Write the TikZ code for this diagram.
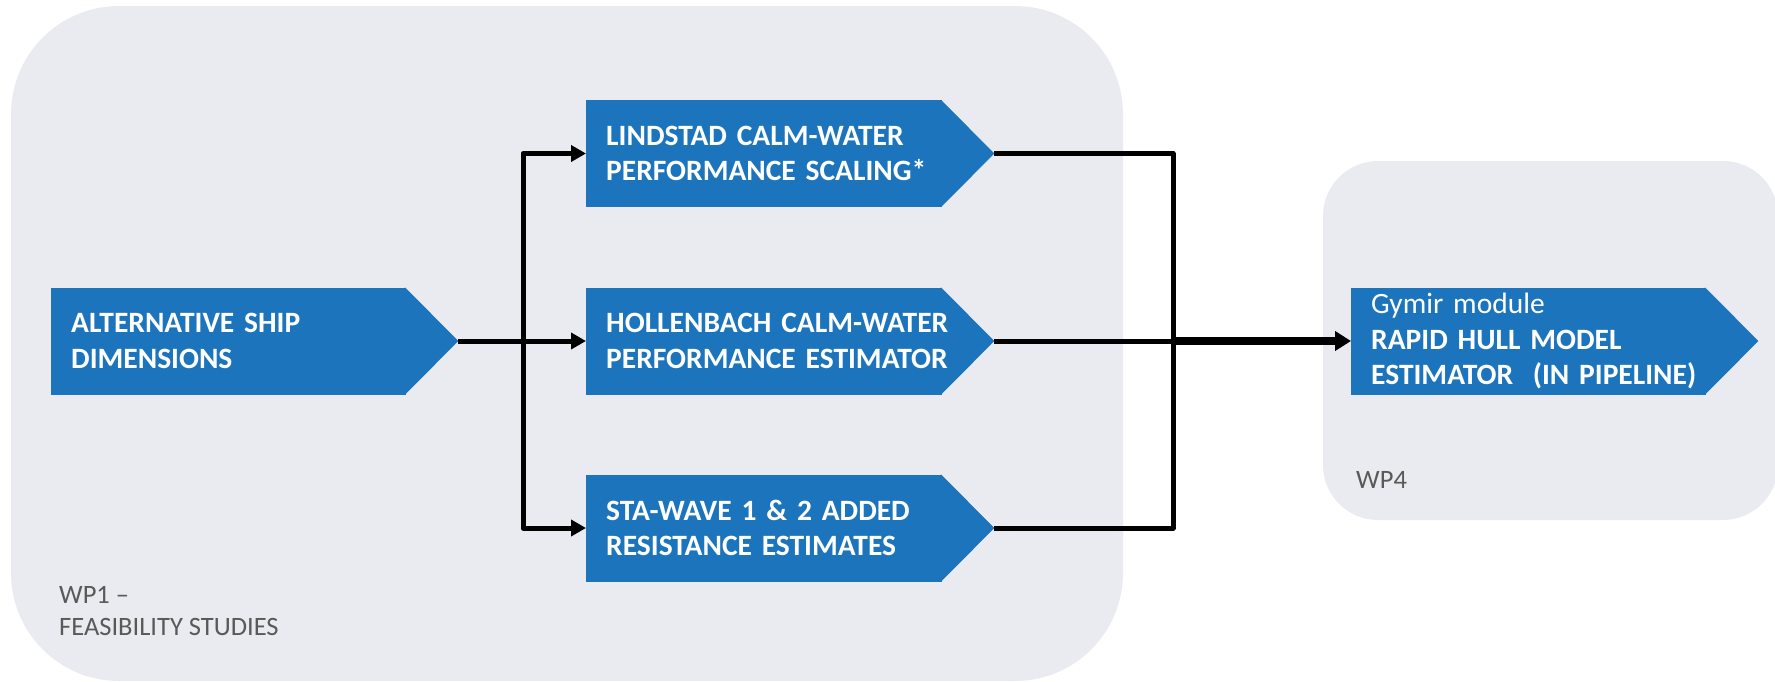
\documentclass[tikz,border=0pt]{standalone}
\usepackage{fontspec}
\setmainfont{Carlito}
\usetikzlibrary{arrows.meta}
\definecolor{boxblue}{RGB}{28,117,188}
\definecolor{panelgray}{RGB}{234,235,241}
\definecolor{labelgray}{RGB}{89,89,89}
\pgfdeclarelayer{panels}
\pgfdeclarelayer{background}
\pgfsetlayers{panels,background,main}
\tikzset{
  panel/.style={fill=panelgray, draw=none},
  stagebox/.style={fill=boxblue, text=white, anchor=west, align=left,
    inner xsep=20pt, inner ysep=0pt, minimum height=107pt,
    font=\fontsize{29.5}{35.5}\selectfont\bfseries},
  wplabel/.style={text=labelgray, anchor=base west, align=left, inner sep=0pt,
    font=\fontsize{26.5}{32}\selectfont},
  conn/.style={line width=5pt, line join=round,
    -{Triangle[length=15pt,width=16pt]}},
  feed/.style={line width=5pt, line join=round},
  mainconn/.style={line width=7.5pt,
    -{Triangle[length=16pt,width=19pt]}}
}
\begin{document}
\begin{tikzpicture}[x=1pt,y=-1pt]
\useasboundingbox (0,0) rectangle (1775,681);

% work-package panels
\begin{pgfonlayer}{panels}
\fill[panel, rounded corners=108pt] (11,6) rectangle (1123,681);
\fill[panel, rounded corners=55pt] (1323,161) rectangle (1778,520);
\end{pgfonlayer}

% pentagon-arrow stage boxes (lines may run into the pointed end)
\node[stagebox, text width=315pt] (alt) at (51,341)
  {\mbox{ALTERNATIVE SHIP}\\\mbox{DIMENSIONS}};
\node[stagebox, text width=316pt] (lind) at (586,153.5)
  {\mbox{LINDSTAD CALM-WATER}\\\mbox{PERFORMANCE SCALING*}};
\node[stagebox, text width=316pt] (holl) at (586,341)
  {\mbox{HOLLENBACH CALM-WATER}\\\mbox{PERFORMANCE ESTIMATOR}};
\node[stagebox, text width=316pt] (sta) at (586,528)
  {\mbox{STA-WAVE 1 \& 2 ADDED}\\\mbox{RESISTANCE ESTIMATES}};
\node[stagebox, text width=315pt] (gym) at (1351,341)
  {\mbox{\mdseries Gymir module}\\\mbox{RAPID HULL MODEL}\\\mbox{ESTIMATOR\ \ (IN PIPELINE)}};

% pointed right ends, placed beneath the box text
\begin{pgfonlayer}{background}
\foreach \n in {alt,lind,holl,sta,gym} {
  \fill[boxblue] ([xshift=-1.5pt]\n.north east) -- ([xshift=52pt]\n.east) coordinate (\n-tip)
    -- ([xshift=-1.5pt]\n.south east) -- cycle;
}
\end{pgfonlayer}

% panel captions
\node[wplabel] (wp1) at (59,635) {WP1 –\\FEASIBILITY STUDIES};
\node[wplabel] (wp4) at (1356,488) {WP4};

% branching and merging points
\coordinate (split) at (523,341);
\coordinate (merge) at (1173,341);

% fan-out from the ship dimensions
\draw[conn] (alt-tip) -- (holl.west);
\draw[conn] (alt-tip) -- (split) |- (lind.west);
\draw[conn] (alt-tip) -- (split) |- (sta.west);

% merge into the hull model estimator
\draw[feed] (lind-tip) -| (merge);
\draw[feed] (sta-tip) -| (merge);
\draw[feed] (holl-tip) -- (merge);
\draw[mainconn] (merge) -- (gym.west);
\end{tikzpicture}
\end{document}
